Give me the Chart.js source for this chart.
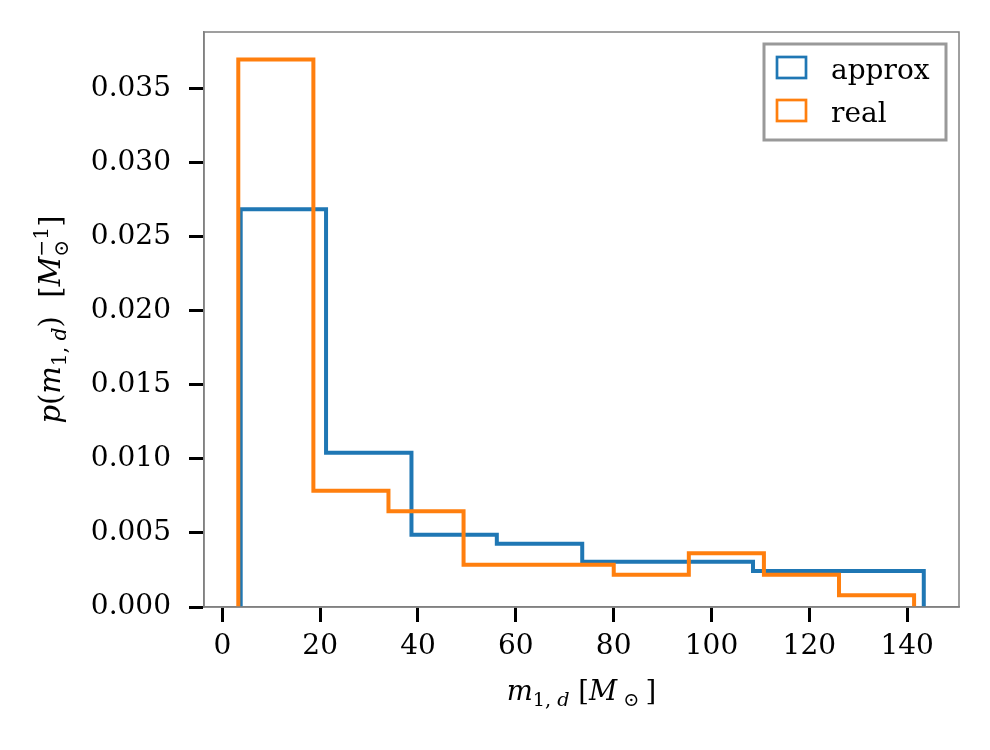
<!DOCTYPE html>
<html>
<head>
<meta charset="utf-8">
<script src="https://cdn.jsdelivr.net/npm/chart.js@4.4.0/dist/chart.umd.min.js"></script>
<style>
  body { margin: 0; background: #fff; }
  #wrap { width: 990px; height: 750px; }
</style>
</head>
<body>
<div id="wrap"><canvas id="histChart" width="990" height="750"></canvas></div>
<script>
// bin edges and densities
const approxEdges = [3.76, 21.21, 38.67, 56.12, 73.58, 91.03, 108.49, 125.94, 143.4];
const approxHeights = [0.02687, 0.01043, 0.00489, 0.00428, 0.00306, 0.00306, 0.00243, 0.00243];
const realEdges = [3.27, 18.62, 33.97, 49.32, 64.67, 80.02, 95.37, 110.72, 126.07, 141.42];
const realHeights = [0.0370, 0.00786, 0.00647, 0.00286, 0.00286, 0.00218, 0.00363, 0.00218, 0.00079];
const seriesLabels = ['approx', 'real'];
const seriesColors = ['#1f77b4', '#ff7f0e'];
const xTicks = [0, 20, 40, 60, 80, 100, 120, 140];
const yTicks = [0, 0.005, 0.010, 0.015, 0.020, 0.025, 0.030, 0.035];

const FONT = 'DejaVu Serif';

// step outline: up at the first edge, across each bin, down at the last edge
function stepPoints(edges, heights) {
  const pts = [{x: edges[0], y: 0}];
  for (let i = 0; i < heights.length; i++) {
    pts.push({x: edges[i + 1], y: heights[i]});
  }
  pts.push({x: edges[edges.length - 1], y: 0});
  return pts;
}

// little mathtext-ish writer: p 0 = base, 1 = sub, 2 = sup, 3 = sup over sub
function runFont(r, S) {
  const sz = r.p ? S * 0.7 : S;
  return (r.i ? 'italic ' : '') + sz + 'px "' + FONT + '"';
}
function runWidth(ctx, r, S) {
  ctx.font = runFont(r, S);
  if (r.p === 3) return Math.max(ctx.measureText(r.t[0]).width, ctx.measureText(r.t[1]).width);
  return ctx.measureText(r.t).width;
}
function drawMath(ctx, runs, S, cx, y) {
  let w = 0;
  runs.forEach(r => { w += runWidth(ctx, r, S); });
  let x = cx - w / 2;
  ctx.textAlign = 'left';
  ctx.textBaseline = 'alphabetic';
  runs.forEach(r => {
    ctx.font = runFont(r, S);
    if (r.p === 0) ctx.fillText(r.t, x, y);
    else if (r.p === 1) ctx.fillText(r.t, x, y + S * 0.22);
    else if (r.p === 2) ctx.fillText(r.t, x, y - S * 0.42);
    else {
      ctx.fillText(r.t[0], x, y - S * 0.42);
      ctx.fillText(r.t[1], x, y + S * 0.28);
    }
    x += runWidth(ctx, r, S);
  });
}

const xTitle = [
  {t: 'm', i: true, p: 0}, {t: '1, ', p: 1}, {t: 'd', i: true, p: 1},
  {t: ' [', p: 0}, {t: 'M', i: true, p: 0}, {t: ' \u2299 ', p: 1}, {t: ']', p: 0}
];
const yTitle = [
  {t: 'p', i: true, p: 0}, {t: '(', p: 0}, {t: 'm', i: true, p: 0},
  {t: '1, ', p: 1}, {t: 'd', i: true, p: 1}, {t: ')  [', p: 0},
  {t: 'M', i: true, p: 0}, {t: ['\u22121', '\u2299'], p: 3}, {t: ']', p: 0}
];

const frameAndText = {
  id: 'frameAndText',
  afterDraw(chart) {
    const ctx = chart.ctx;
    const a = chart.chartArea;
    ctx.save();
    // top and right spines
    ctx.strokeStyle = '#808080';
    ctx.lineWidth = 1.5;
    ctx.strokeRect(a.left, a.top, a.right - a.left, a.bottom - a.top);

    // legend
    const lx = a.right - 195, ly = a.top + 12;
    ctx.fillStyle = '#fff';
    ctx.fillRect(lx, ly, 182, 96);
    ctx.strokeStyle = '#999999';
    ctx.lineWidth = 3;
    ctx.strokeRect(lx, ly, 182, 96);
    chart.data.datasets.forEach((ds, i) => {
      const by = ly + 13 + i * 43;
      ctx.strokeStyle = ds.borderColor;
      ctx.lineWidth = 2.7;
      ctx.strokeRect(lx + 13, by, 29, 21);
      ctx.fillStyle = '#000';
      ctx.font = '28px "' + FONT + '"';
      ctx.textAlign = 'left';
      ctx.textBaseline = 'alphabetic';
      ctx.fillText(ds.label, lx + 67, by + 22);
    });

    // axis titles
    ctx.fillStyle = '#000';
    drawMath(ctx, xTitle, 27.5, (a.left + a.right) / 2, 700);
    ctx.translate(60, (a.top + a.bottom) / 2);
    ctx.rotate(-Math.PI / 2);
    drawMath(ctx, yTitle, 29, 0, 0);
    ctx.restore();
  }
};

new Chart(document.getElementById('histChart'), {
  type: 'line',
  data: {
    datasets: [
      {
        label: seriesLabels[0],
        data: stepPoints(approxEdges, approxHeights),
        borderColor: seriesColors[0],
        borderWidth: 4,
        stepped: 'after',
        pointRadius: 0,
        fill: false,
        order: 2
      },
      {
        label: seriesLabels[1],
        data: stepPoints(realEdges, realHeights),
        borderColor: seriesColors[1],
        borderWidth: 4,
        stepped: 'after',
        pointRadius: 0,
        fill: false,
        order: 1
      }
    ]
  },
  options: {
    responsive: false,
    animation: false,
    events: [],
    layout: { padding: { top: 32, right: 31, left: 0, bottom: 0 } },
    plugins: {
      legend: { display: false },
      tooltip: { enabled: false }
    },
    scales: {
      x: {
        type: 'linear',
        min: -3.74,
        max: 150.6,
        afterFit: s => { s.height = 143; s.paddingLeft = 0; s.paddingRight = 0; },
        afterBuildTicks: s => { s.ticks = xTicks.map(v => ({value: v})); },
        grid: { drawOnChartArea: false, tickLength: 15, tickWidth: 3, tickColor: '#000' },
        border: { color: '#808080', width: 1.5 },
        ticks: { color: '#000', padding: 8, maxRotation: 0, font: { family: FONT, size: 28 } }
      },
      y: {
        type: 'linear',
        min: 0,
        max: 0.03885,
        afterFit: s => { s.width = 204; s.paddingTop = 0; s.paddingBottom = 0; },
        afterBuildTicks: s => { s.ticks = yTicks.map(v => ({value: v})); },
        grid: { drawOnChartArea: false, tickLength: 15, tickWidth: 3, tickColor: '#000' },
        border: { color: '#808080', width: 1.5 },
        ticks: {
          color: '#000', padding: 18, font: { family: FONT, size: 28 },
          callback: v => v.toFixed(3)
        }
      }
    }
  },
  plugins: [frameAndText]
});
</script>
</body>
</html>
